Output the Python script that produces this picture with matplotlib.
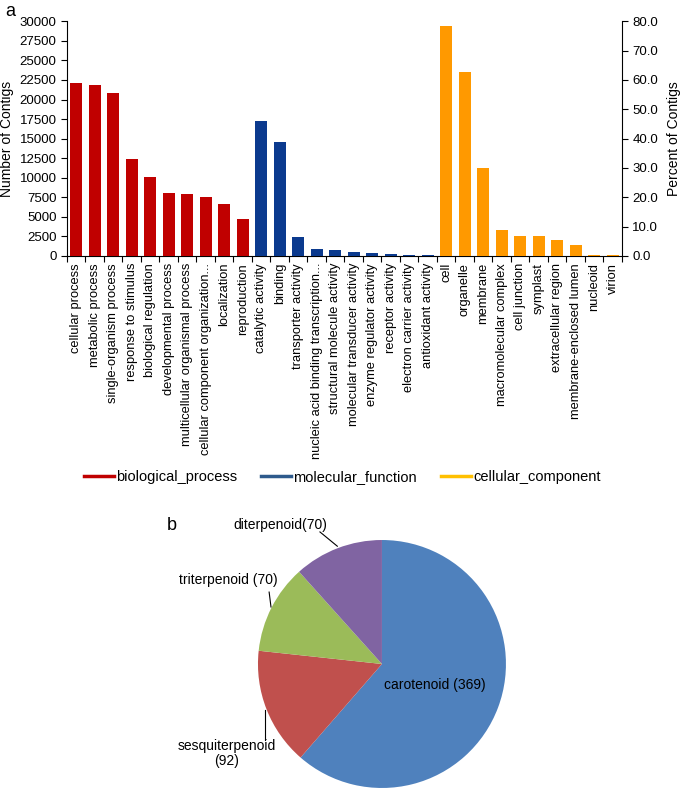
import numpy as np
import matplotlib
matplotlib.use("Agg")
import matplotlib.pyplot as plt
from matplotlib.lines import Line2D

plt.rcParams['font.family'] = ['Liberation Sans', 'DejaVu Sans']

# GO annotation, panel a
bp_terms = ['cellular process', 'metabolic process', 'single-organism process',
            'response to stimulus', 'biological regulation', 'developmental process',
            'multicellular organismal process', 'cellular component organization...',
            'localization', 'reproduction']
bp_counts = [22100, 21800, 20800, 12400, 10100, 8100, 7900, 7500, 6600, 4700]

mf_terms = ['catalytic activity', 'binding', 'transporter activity',
            'nucleic acid binding transcription...', 'structural molecule activity',
            'molecular transducer activity', 'enzyme regulator activity',
            'receptor activity', 'electron carrier activity', 'antioxidant activity']
mf_counts = [17300, 14600, 2400, 950, 700, 500, 350, 250, 120, 90]

cc_terms = ['cell', 'organelle', 'membrane', 'macromolecular complex', 'cell junction',
            'symplast', 'extracellular region', 'membrane-enclosed lumen', 'nucleoid', 'virion']
cc_percent = [78.4, 62.7, 29.9, 8.9, 6.9, 6.9, 5.3, 3.6, 0.3, 0.3]

# terpenoid classes, panel b
pie_labels = ['carotenoid (369)', 'sesquiterpenoid\n(92)', 'triterpenoid (70)', 'diterpenoid(70)']
pie_values = [369, 92, 70, 70]

red = '#C00000'
blue = '#0B3A8E'
orange = '#FF9900'

fig = plt.figure(figsize=(6.85, 7.9), dpi=100)

# ---- panel a: bars ----
ax = fig.add_axes([0.0978, 0.676, 0.8102, 0.297])
ax2 = ax.twinx()

n_bp, n_mf = len(bp_terms), len(mf_terms)
x_bp = np.arange(n_bp)
x_mf = np.arange(n_mf) + n_bp
x_cc = np.arange(len(cc_terms)) + n_bp + n_mf
w = 0.65

ax.bar(x_bp, bp_counts, width=w, color=red, zorder=3)
ax.bar(x_mf, mf_counts, width=w, color=blue, zorder=3)
ax2.bar(x_cc, cc_percent, width=w, color=orange, zorder=3)

all_terms = bp_terms + mf_terms + cc_terms
n_all = len(all_terms)
ax.set_xlim(-0.5, n_all - 0.5)
ax.set_ylim(0, 30000)
ax2.set_ylim(0, 80)

ax.set_yticks(np.arange(0, 30001, 2500))
ax.set_yticklabels([str(v) for v in range(0, 30001, 2500)])
ax2.set_yticks(np.arange(0, 81, 10))
ax2.set_yticklabels(['%.1f' % v for v in range(0, 81, 10)])

ax.set_xticks(np.arange(n_all))
ax.set_xticklabels(all_terms, rotation=90, fontsize=9.3)
ax.set_xticks(np.arange(n_all + 1) - 0.5, minor=True)
ax.tick_params(axis='x', which='major', length=0, pad=5)
ax.tick_params(axis='x', which='minor', length=4, direction='out', width=0.8)
ax.tick_params(axis='y', length=4, width=0.8, labelsize=9.5)
ax2.tick_params(axis='y', length=4, width=0.8, labelsize=9.5)

for a in (ax, ax2):
    a.spines['top'].set_visible(False)
ax.spines['right'].set_visible(False)
ax2.spines['left'].set_visible(False)
ax2.spines['bottom'].set_visible(False)

ax.set_ylabel('Number of Contigs', fontsize=10, labelpad=4)
ax2.set_ylabel('Percent of Contigs', fontsize=10, labelpad=6)

fig.text(0.008, 0.986, 'a', fontsize=13, va='center')

handles = [Line2D([], [], color=red, lw=2.5),
           Line2D([], [], color='#2E5A8C', lw=2.5),
           Line2D([], [], color='#FFC000', lw=2.5)]
fig.legend(handles, ['biological_process', 'molecular_function', 'cellular_component'],
           loc='center', bbox_to_anchor=(0.5, 1 - 477 / 790), ncol=3, frameon=False,
           fontsize=10.5, handlelength=2.05, handletextpad=0.15, columnspacing=1.65)

# ---- panel b: pie ----
pax = fig.add_axes([0.3766, 0.0025, 0.362, 0.314])
pax.pie(pie_values, colors=['#4F81BD', '#C0504D', '#9BBB59', '#8064A2'],
        startangle=90, counterclock=False, radius=1.0)
pax.set_xlim(-1, 1)
pax.set_ylim(-1, 1)
pax.set_aspect('equal')

fs = 10
pax.text(0.43, -0.17, pie_labels[0], fontsize=fs, ha='center', va='center')
pax.text(-1.25, -0.72, pie_labels[1], fontsize=fs, ha='center', va='center', linespacing=1.1)
pax.plot([-0.94, -0.94], [-0.37, -0.61], color='black', lw=0.8, clip_on=False)
pax.text(-1.24, 0.68, pie_labels[2], fontsize=fs, ha='center', va='center')
pax.plot([-0.91, -0.895], [0.58, 0.46], color='black', lw=0.8, clip_on=False)
pax.text(-0.82, 1.12, pie_labels[3], fontsize=fs, ha='center', va='center')
pax.plot([-0.5, -0.36], [1.065, 0.95], color='black', lw=0.8, clip_on=False)

fig.text(172 / 685, 1 - 525 / 790, 'b', fontsize=13, va='center', ha='center')

fig.savefig('out.png', dpi=100)
